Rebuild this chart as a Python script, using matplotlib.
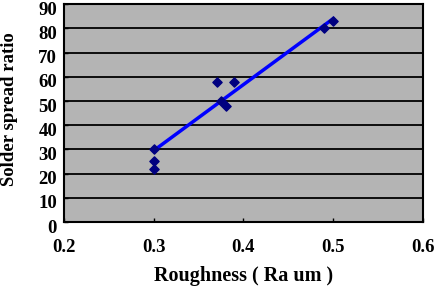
import matplotlib
matplotlib.use("Agg")
import matplotlib.pyplot as plt
import matplotlib.transforms as mtransforms

roughness = [0.30, 0.30, 0.30, 0.37, 0.39, 0.38, 0.375, 0.49, 0.50]
spread = [30, 25, 22, 58, 58, 48, 50, 80, 83]
trend_x = [0.30, 0.50]
trend_y = [29.5, 84.0]
xticks = [0.2, 0.3, 0.4, 0.5, 0.6]
xticklabels = ["0.2", "0.3", "0.4", "0.5", "0.6"]
yticks = [0, 10, 20, 30, 40, 50, 60, 70, 80, 90]

plt.rcParams['font.family'] = ['Liberation Serif', 'DejaVu Serif']
plt.rcParams['font.weight'] = 'bold'

fig = plt.figure(figsize=(4.36, 2.94), dpi=100)
ax = fig.add_axes([0.1468, 0.245, 0.8232, 0.741])
ax.set_facecolor('#b4b4b4')
ax.set_xlim(0.2, 0.6)
ax.set_ylim(0, 90)
for y in yticks[1:-1]:
    ax.axhline(y, color='black', linewidth=1.3, zorder=1)
ax.plot(trend_x, trend_y, color='#0000ff', linewidth=2.5, zorder=2)
ax.scatter(roughness, spread, marker='D', s=22, color='#000080', zorder=3)
ax.set_xticks(xticks)
ax.set_xticklabels(xticklabels)
ax.set_yticks(yticks)
ax.tick_params(direction='in', length=3, width=1, labelsize=13.5)
ax.tick_params(axis='x', pad=12)
ax.tick_params(axis='y', pad=5)
offset = mtransforms.ScaledTranslation(0, -3 / 72, fig.dpi_scale_trans)
for lab in ax.get_yticklabels():
    lab.set_transform(lab.get_transform() + offset)
for lab in ax.get_xticklabels() + ax.get_yticklabels():
    lab.set_fontweight('bold')
for s in ax.spines.values():
    s.set_linewidth(1.5)
ax.set_xlabel("Roughness ( Ra um )", fontsize=14.5, fontweight='bold')
ax.xaxis.set_label_coords(0.5, -0.2)
ax.set_ylabel("Solder spread ratio", fontsize=13.5, fontweight='bold')
ax.yaxis.set_label_coords(-0.128, 0.52)
fig.savefig("out.png", dpi=100)
